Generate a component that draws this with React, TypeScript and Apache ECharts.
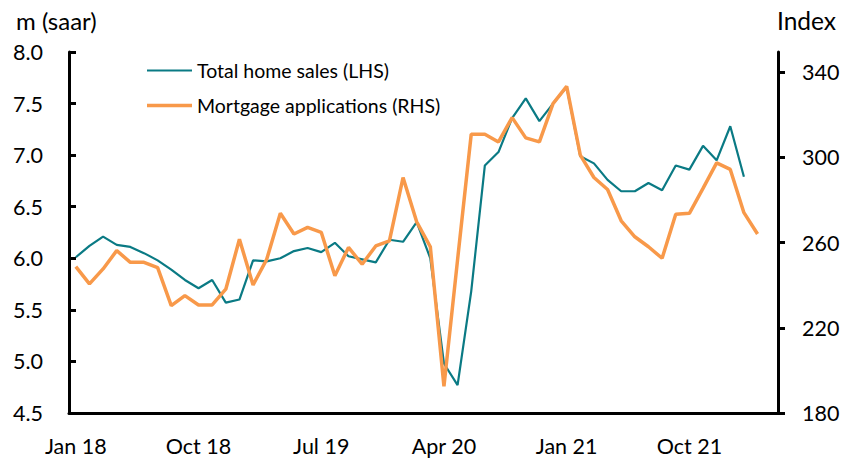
import React, { useEffect, useRef } from "react";
import * as echarts from "echarts";

const MONTHS = ["Jan", "Feb", "Mar", "Apr", "May", "Jun", "Jul", "Aug", "Sep", "Oct", "Nov", "Dec"];
const categories: string[] = [];
for (let y = 18; y <= 22; y++) {
  for (let m = 0; m < 12; m++) {
    if (y === 22 && m > 3) break;
    categories.push(`${MONTHS[m]} ${y}`);
  }
}

const homeSales = [
  6.01, 6.12, 6.21, 6.13, 6.11, 6.05, 5.98, 5.89, 5.79, 5.71,
  5.79, 5.57, 5.6, 5.98, 5.97, 6.0, 6.07, 6.1, 6.06, 6.15,
  6.02, 5.99, 5.96, 6.18, 6.16, 6.35, 6.0, 4.98, 4.77, 5.68,
  6.9, 7.03, 7.36, 7.55, 7.33, 7.5, 7.66, 6.99, 6.92, 6.76,
  6.65, 6.65, 6.73, 6.66, 6.9, 6.86, 7.09, 6.95, 7.28, 6.79,
];

const mortgageApps = [
  248.7, 240.6, 247.6, 256.2, 250.7, 250.7, 248.2, 230.4, 235.1, 230.7,
  230.7, 238.1, 261.5, 240.1, 252.1, 273.7, 264.0, 267.1, 264.8, 244.4,
  257.7, 249.8, 258.4, 260.8, 290.5, 269.7, 258.0, 192.5, 252.0, 310.8,
  310.8, 307.2, 318.6, 309.1, 307.2, 325.2, 333.3, 301.0, 290.5, 284.9,
  270.2, 262.7, 258.0, 252.6, 273.3, 273.7, 285.4, 297.4, 294.3, 274.0,
  264.0,
];

const rightTicks = [180, 220, 260, 300, 340];

const FONT = "Lato";
const TEAL = "#0A7A84";
const ORANGE = "#F8994A";
const LABEL_SIZE = 21.5;

export default function App() {
  const ref = useRef<HTMLDivElement>(null);
  useEffect(() => {
    if (!ref.current) return;
    const chart = echarts.init(ref.current, null, { renderer: "svg" });
    chart.setOption({
      animation: false,
      textStyle: { fontFamily: FONT, color: "#000" },
      grid: { left: 69, right: 65, top: 52, bottom: 45, containLabel: false },
      legend: {
        orient: "vertical",
        left: 142,
        top: 55,
        itemWidth: 45,
        itemHeight: 14,
        itemGap: 14,
        symbolKeepAspect: true,
        textStyle: { fontFamily: FONT, fontSize: 19.5, lineHeight: 21, color: "#000" },
        data: [
          { name: "Total home sales (LHS)", icon: "path://M0 0H45V2.2H0Z" },
          { name: "Mortgage applications (RHS)", icon: "path://M0 0H45V3.6H0Z" },
        ],
      },
      graphic: [
        {
          type: "text",
          left: 16,
          top: 8,
          style: { text: "m (saar)", fontFamily: FONT, fontSize: 24, fill: "#000" },
        },
        {
          type: "text",
          left: 777,
          top: 8,
          style: { text: "Index", fontFamily: FONT, fontSize: 24.5, fill: "#000" },
        },
      ],
      xAxis: {
        type: "category",
        data: categories,
        boundaryGap: true,
        axisLine: { lineStyle: { color: "#000", width: 3 } },
        axisTick: { inside: true, length: 7, interval: 8, lineStyle: { color: "#000", width: 3 } },
        axisLabel: { interval: 8, fontFamily: FONT, fontSize: LABEL_SIZE, color: "#000", margin: 22 },
        splitLine: { show: false },
      },
      yAxis: [
        {
          type: "value",
          min: 4.5,
          max: 8,
          interval: 0.5,
          position: "left",
          axisLine: { show: true, lineStyle: { color: "#000", width: 3 } },
          axisTick: { show: true, inside: true, length: 7, lineStyle: { color: "#000", width: 3 } },
          axisLabel: {
            fontFamily: FONT,
            fontSize: LABEL_SIZE,
            color: "#000",
            margin: 26,
            formatter: (v: number) => v.toFixed(1),
          },
          splitLine: { show: false },
        },
        {
          type: "value",
          min: 180,
          max: 349.4,
          interval: 40,
          position: "right",
          axisLine: { show: true, lineStyle: { color: "#000", width: 3 } },
          axisTick: {
            show: true,
            inside: false,
            length: 7,
            customValues: rightTicks,
            lineStyle: { color: "#000", width: 3 },
          },
          axisLabel: {
            fontFamily: FONT,
            fontSize: LABEL_SIZE,
            color: "#000",
            margin: 24,
            customValues: rightTicks,
          },
          splitLine: { show: false },
        },
      ],
      series: [
        {
          name: "Total home sales (LHS)",
          type: "line",
          yAxisIndex: 0,
          data: homeSales,
          symbol: "none",
          lineStyle: { color: TEAL, width: 2.2 },
          itemStyle: { color: TEAL },
          z: 2,
        },
        {
          name: "Mortgage applications (RHS)",
          type: "line",
          yAxisIndex: 1,
          data: mortgageApps,
          symbol: "none",
          lineStyle: { color: ORANGE, width: 3.5 },
          itemStyle: { color: ORANGE },
          z: 3,
        },
      ],
    });
    return () => chart.dispose();
  }, []);
  return (
    <div
      ref={ref}
      style={{ position: "fixed", left: 0, top: 0, width: 843, height: 458, background: "#fff" }}
    />
  );
}
